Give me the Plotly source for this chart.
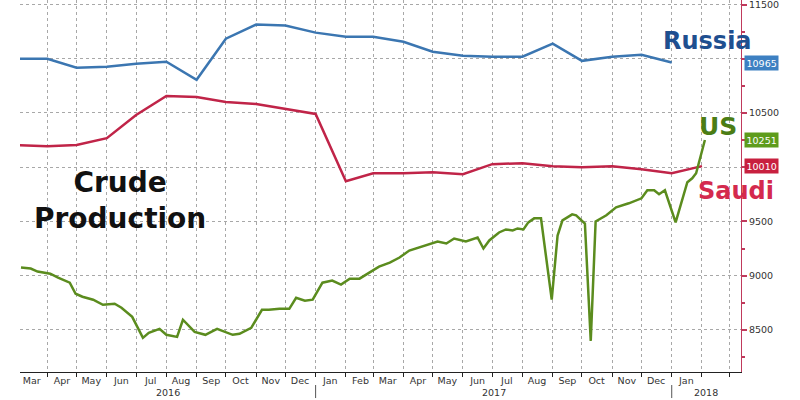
import pandas as pd
import plotly.graph_objects as go

# ---------------- data ----------------
russia_dates = pd.date_range("2016-03-01", "2018-01-01", freq="MS")
russia_vals = [11000, 11000, 10917, 10926, 10954, 10972, 10806, 11185, 11315, 11306,
               11241, 11204, 11204, 11157, 11065, 11028, 11019, 11019, 11139, 10981,
               11019, 11037, 10965]

saudi_dates = pd.date_range("2016-03-01", "2018-02-01", freq="MS")
saudi_vals = [10204, 10194, 10204, 10268, 10481, 10657, 10648, 10602, 10583, 10537,
              10491, 9870, 9944, 9944, 9954, 9935, 10028, 10037, 10009, 10000,
              10009, 9981, 9944, 10010]

us_dates = [
    "2016-03-05", "2016-03-15", "2016-03-22", "2016-03-27", "2016-04-04", "2016-04-12",
    "2016-04-24", "2016-04-30", "2016-05-07", "2016-05-18", "2016-05-28", "2016-06-09",
    "2016-06-16", "2016-06-27", "2016-07-08", "2016-07-14", "2016-07-25", "2016-08-01",
    "2016-08-12", "2016-08-18", "2016-08-30", "2016-09-10", "2016-09-22", "2016-10-08",
    "2016-10-15", "2016-10-27", "2016-11-07", "2016-11-14", "2016-11-25", "2016-12-05",
    "2016-12-12", "2016-12-21", "2016-12-29", "2017-01-08", "2017-01-18", "2017-01-27",
    "2017-02-05", "2017-02-15", "2017-02-25", "2017-03-07", "2017-03-18", "2017-03-28",
    "2017-04-07", "2017-04-17", "2017-04-28", "2017-05-06", "2017-05-15", "2017-05-23",
    "2017-06-04", "2017-06-16", "2017-06-22", "2017-06-28", "2017-07-08", "2017-07-15",
    "2017-07-22", "2017-07-27", "2017-08-02", "2017-08-07", "2017-08-13", "2017-08-20",
    "2017-08-31", "2017-09-06", "2017-09-11", "2017-09-21", "2017-09-25", "2017-10-04",
    "2017-10-10", "2017-10-15", "2017-10-26", "2017-11-05", "2017-11-18", "2017-12-01",
    "2017-12-07", "2017-12-14", "2017-12-19", "2017-12-25", "2018-01-05", "2018-01-12",
    "2018-01-17", "2018-01-22", "2018-01-26", "2018-02-04",
]
us_vals = [
    9074, 9065, 9037, 9028, 9018, 8981,
    8935, 8833, 8805, 8778, 8731, 8741,
    8704, 8620, 8426, 8472, 8509, 8454,
    8435, 8593, 8481, 8454, 8509, 8454,
    8463, 8518, 8685, 8685, 8694, 8694,
    8796, 8768, 8778, 8935, 8954, 8917,
    8972, 8972, 9028, 9083, 9120, 9167,
    9231, 9259, 9296, 9315, 9296, 9342,
    9315, 9352, 9250, 9324, 9398, 9426,
    9417, 9435, 9426, 9491, 9528, 9528,
    8778, 9370, 9509, 9565, 9556, 9481,
    8398, 9500, 9556, 9630, 9667, 9713,
    9787, 9787, 9750, 9787, 9491, 9722,
    9861, 9898, 9944, 10251,
]

month_labels = ["Mar", "Apr", "May", "Jun", "Jul", "Aug", "Sep", "Oct", "Nov", "Dec",
                "Jan", "Feb", "Mar", "Apr", "May", "Jun", "Jul", "Aug", "Sep", "Oct",
                "Nov", "Dec", "Jan"]
year_labels = ["2016", "2017", "2018"]
y_tick_vals = [8500, 9000, 9500, 10000, 10500, 11000, 11500]
y_tick_text = ["8500", "9000", "9500", "", "10500", "", "11500"]

# ---------------- style ----------------
C_RUS, C_SAU, C_US = "#3b76b1", "#c02448", "#5b8c1e"
C_RUS_T, C_SAU_T, C_US_T = "#1f4f8f", "#d42a4e", "#4b7d15"
TAG_RUS, TAG_SAU, TAG_US = "#3d80c2", "#c8203f", "#5e9c1c"
AXIS_RED = "#c03a5c"
GRID = "#a8a8a8"
TICKFONT = dict(family="DejaVu Sans", size=9.5, color="#333333")

x_start, x_end = pd.Timestamp("2016-03-04"), pd.Timestamp("2018-03-13")
month_starts = pd.date_range("2016-03-01", "2018-01-01", freq="MS")
month_mids = month_starts + pd.Timedelta(days=15)
minor_vals = pd.date_range("2016-04-01", "2018-03-01", freq="MS")

fig = go.Figure()
fig.add_trace(go.Scatter(x=russia_dates, y=russia_vals, mode="lines",
                         line=dict(color=C_RUS, width=2.5), showlegend=False))
fig.add_trace(go.Scatter(x=saudi_dates, y=saudi_vals, mode="lines",
                         line=dict(color=C_SAU, width=2.5), showlegend=False))
fig.add_trace(go.Scatter(x=pd.to_datetime(us_dates), y=us_vals, mode="lines",
                         line=dict(color=C_US, width=2.5), showlegend=False))

fig.update_layout(
    width=800, height=400,
    margin=dict(l=20, r=59, t=0, b=28),
    paper_bgcolor="white", plot_bgcolor="white",
    xaxis=dict(
        type="date", range=[x_start, x_end], automargin=False,
        tickmode="array", tickvals=month_mids, ticktext=month_labels,
        ticks="", showgrid=False, zeroline=False,
        showline=True, linecolor="#222222", linewidth=1,
        tickfont=TICKFONT,
        minor=dict(tickmode="array", tickvals=minor_vals, ticks="outside", ticklen=4,
                   tickcolor="#222222", showgrid=True, gridcolor=GRID,
                   griddash="dot", gridwidth=1),
    ),
    yaxis=dict(
        side="right", range=[8111, 11542], automargin=False,
        tickmode="array", tickvals=y_tick_vals, ticktext=y_tick_text,
        showgrid=True, gridcolor=GRID, griddash="dot", gridwidth=1,
        zeroline=False, showline=True, linecolor=AXIS_RED, linewidth=1,
        ticks="outside", ticklen=5, tickwidth=2, tickcolor=AXIS_RED,
        tickfont=TICKFONT, ticklabeloverflow="allow",
        minor=dict(dtick=250, tick0=0, ticks="outside", ticklen=3, tickcolor=AXIS_RED,
                   showgrid=False),
    ),
)

# year labels centred under the visible part of each year, with separators
year_bounds = [x_start, pd.Timestamp("2017-01-01"), pd.Timestamp("2018-01-01"), x_end]
for i, lab in enumerate(year_labels):
    mid = year_bounds[i] + (year_bounds[i + 1] - year_bounds[i]) / 2
    fig.add_annotation(x=mid, y=-0.054, xref="x", yref="paper", text=lab,
                       showarrow=False, font=TICKFONT, xanchor="center", yanchor="middle")
for b in year_bounds[1:3]:
    fig.add_shape(type="line", x0=b, x1=b, xref="x", yref="paper",
                  y0=-0.035, y1=-0.07, line=dict(color="#555555", width=1))

# series name labels
BIG = "DejaVu Sans"
labels = [
    (0.139, 0.462, "<b>Crude<br>Production</b>", 28, "#111111"),
    (0.953, 0.890, "<b>Russia</b>", 24, C_RUS_T),
    (0.968, 0.659, "<b>US</b>", 25, C_US_T),
    (0.993, 0.487, "<b>Saudi</b>", 24, C_SAU_T),
]
for x, y, t, s, c in labels:
    fig.add_annotation(x=x, y=y, xref="paper", yref="paper", text=t, showarrow=False,
                       xanchor="center", yanchor="middle", align="center",
                       font=dict(family=BIG, size=s, color=c))

# last-value tags on the right axis
for val, col in [(russia_vals[-1], TAG_RUS), (us_vals[-1], TAG_US), (saudi_vals[-1], TAG_SAU)]:
    fig.add_annotation(x=1.004, y=val, xref="paper", yref="y", text=str(val),
                       showarrow=False, xanchor="left", yanchor="middle",
                       bgcolor=col, borderpad=1.5,
                       font=dict(family="DejaVu Sans", size=9.5, color="white"))

fig.write_html("out.html", config={"displayModeBar": False},
               post_script="document.body.style.margin='0px';")
